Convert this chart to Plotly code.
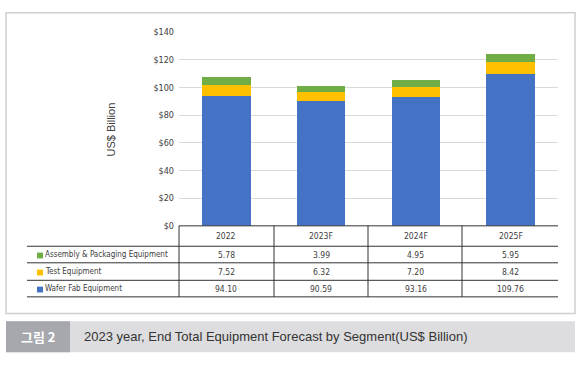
import plotly.graph_objects as go

categories = ["2022", "2023F", "2024F", "2025F"]
wafer_fab = [94.10, 90.59, 93.16, 109.76]
test_eq = [7.52, 6.32, 7.20, 8.42]
assembly = [5.78, 3.99, 4.95, 5.95]
wafer_fab_labels = ["94.10", "90.59", "93.16", "109.76"]
test_labels = ["7.52", "6.32", "7.20", "8.42"]
assembly_labels = ["5.78", "3.99", "4.95", "5.95"]
y_ticks = [0, 20, 40, 60, 80, 100, 120, 140]
y_tick_labels = ["$0", "$20", "$40", "$60", "$80", "$100", "$120", "$140"]
series_names = ["Assembly & Packaging Equipment", "Test Equipment", "Wafer Fab Equipment"]
caption_tag = "그림 2"
caption = "2023 year, End Total Equipment Forecast by Segment(US$ Billion)"

W, H = 583, 368
def px(x):
    return x / W
def py(y):
    return 1 - y / H

BLUE = "#4472C4"
YELLOW = "#FFC000"
GREEN = "#70AD47"
NARROW = "DejaVu Sans Condensed, Liberation Sans Narrow, Arial Narrow, sans-serif"
TXT = "#404040"

fig = go.Figure()
fig.add_trace(go.Bar(x=categories, y=wafer_fab, marker=dict(color=BLUE, line=dict(width=0)), name=series_names[2]))
fig.add_trace(go.Bar(x=categories, y=test_eq, marker=dict(color=YELLOW, line=dict(width=0)), name=series_names[1]))
fig.add_trace(go.Bar(x=categories, y=assembly, marker=dict(color=GREEN, line=dict(width=0)), name=series_names[0]))

x_left, x_right = 179, 558
y_zero, y_top = 227, 28
rows = [227, 248, 265, 283, 300]
col_lines = [179, 274, 368, 462]

shapes = []
shapes.append(dict(type="rect", xref="paper", yref="paper", x0=px(6), x1=px(575), y0=py(8), y1=py(317),
                   line=dict(color="#CFCFCF", width=1.5), fillcolor="rgba(0,0,0,0)", layer="below"))
shapes.append(dict(type="rect", xref="paper", yref="paper", x0=px(6), x1=px(575), y0=py(325), y1=py(357),
                   line=dict(width=0), fillcolor="#DDDDDF", layer="below"))
shapes.append(dict(type="rect", xref="paper", yref="paper", x0=px(6), x1=px(70), y0=py(325), y1=py(357),
                   line=dict(width=0), fillcolor="#A7A8AE", layer="below"))
shapes.append(dict(type="line", xref="paper", yref="paper", x0=px(x_left), x1=px(x_right), y0=py(rows[0]), y1=py(rows[0]),
                   line=dict(color="#333333", width=1)))
for r in rows[1:]:
    shapes.append(dict(type="line", xref="paper", yref="paper", x0=px(27), x1=px(x_right), y0=py(r), y1=py(r),
                       line=dict(color="#333333", width=1)))
for c in col_lines:
    shapes.append(dict(type="line", xref="paper", yref="paper", x0=px(c), x1=px(c), y0=py(rows[0]), y1=py(rows[-1]),
                       line=dict(color="#333333", width=1)))

annotations = []
hy = (rows[0] + rows[1]) / 2
for k, c in enumerate(categories):
    annotations.append(dict(x=k, xref="x", y=py(hy), yref="paper", text=c, showarrow=False,
                            font=dict(family=NARROW, size=8.5, color=TXT), xanchor="center", yanchor="middle"))
row_data = [(series_names[0], GREEN, assembly_labels),
            (series_names[1], YELLOW, test_labels),
            (series_names[2], BLUE, wafer_fab_labels)]
for i, (name, color, labels) in enumerate(row_data):
    yc = (rows[i + 1] + rows[i + 2]) / 2
    shapes.append(dict(type="rect", xref="paper", yref="paper", x0=px(37), x1=px(43), y0=py(yc + 4), y1=py(yc - 2),
                       line=dict(width=0), fillcolor=color))
    annotations.append(dict(x=px(43), xref="paper", y=py(yc), yref="paper", text=name, showarrow=False,
                            font=dict(family=NARROW, size=8, color=TXT), xanchor="left", yanchor="middle"))
    for k, lab in enumerate(labels):
        annotations.append(dict(x=k, xref="x", y=py(yc), yref="paper", text=lab, showarrow=False,
                                font=dict(family=NARROW, size=8.5, color=TXT), xanchor="center", yanchor="middle"))

annotations.append(dict(x=px(111), xref="paper", y=py(128), yref="paper", text="US$ Billion", textangle=-90,
                        showarrow=False, font=dict(family="Liberation Sans, Arial, sans-serif", size=11, color=TXT),
                        xanchor="center", yanchor="middle"))
annotations.append(dict(x=px(38), xref="paper", y=py(341), yref="paper", text="<b>" + caption_tag + "</b>",
                        showarrow=False, font=dict(family="Noto Sans CJK KR, sans-serif", size=13, color="white"),
                        xanchor="center", yanchor="middle"))
annotations.append(dict(x=px(82), xref="paper", y=py(341), yref="paper", text=caption,
                        showarrow=False, font=dict(family="Liberation Sans, Arial, sans-serif", size=13, color="#333333"),
                        xanchor="left", yanchor="middle"))

fig.update_layout(
    width=W, height=H, margin=dict(l=0, r=0, t=0, b=0),
    paper_bgcolor="white", plot_bgcolor="white",
    barmode="stack", bargap=0.49, showlegend=False,
    shapes=shapes, annotations=annotations,
    xaxis=dict(type="category", domain=[px(x_left), px(x_right)], range=[-0.5, 3.5], autorange=False,
               showticklabels=False, showgrid=False, zeroline=False, showline=False, ticks=""),
    yaxis=dict(domain=[py(y_zero), py(y_top)], range=[0, 140], tickvals=y_ticks, ticktext=y_tick_labels,
               showgrid=True, gridcolor="#D9D9D9", gridwidth=1, zeroline=False, showline=False, ticks="",
               tickfont=dict(family=NARROW, size=9, color=TXT), ticklabelstandoff=4),
)

fig.write_html("out.html", config={"displayModeBar": False},
               post_script="document.body.style.margin='0';document.body.style.overflow='hidden';")
